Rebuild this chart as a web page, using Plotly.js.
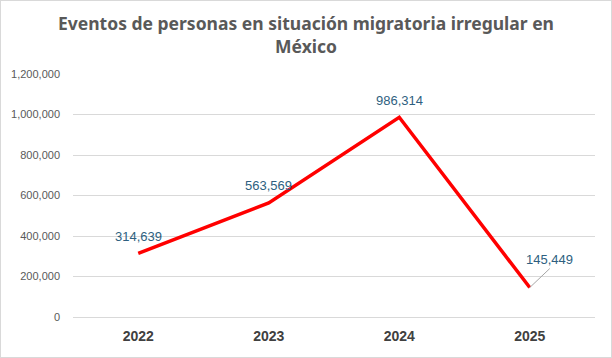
<!DOCTYPE html>
<html><head><meta charset="utf-8">
<script src="https://cdn.plot.ly/plotly-3.0.1.min.js"></script>
<style>
html,body{margin:0;padding:0;background:#fff;}
#c{width:610px;height:356px;border:1px solid #d9d9d9;}
</style></head>
<body><div id="c"></div>
<script>
const years = ['2022','2023','2024','2025'];
const values = [314639, 563569, 986314, 145449];
const labels = ['314,639','563,569','986,314','145,449'];

const annotations = years.map((y,i)=>{
  const last = i === years.length-1;
  return {
    x: i, y: values[i], xref:'x', yref:'y', text: labels[i],
    showarrow: true, arrowhead: 0, arrowwidth: 1,
    arrowcolor: last ? '#a6a6a6' : 'rgba(0,0,0,0)',
    ax: last ? 20 : 0, ay: last ? -19 : -17,
    xanchor: 'center', yanchor: last ? 'bottom' : 'middle',
    font: {family:'Liberation Sans, Arial, sans-serif', size:13, color:'#2e5f80'}
  };
});

const data = [{
  x: years, y: values, type:'scatter', mode:'lines',
  line:{color:'#ff0000', width:3.5}, hoverinfo:'skip'
}];

const layout = {
  width:610, height:356,
  margin:{l:72, r:16, t:73, b:40},
  paper_bgcolor:'#fff', plot_bgcolor:'#fff',
  showlegend:false,
  title:{text:'Eventos de personas en situación migratoria irregular en<br>México',
    font:{family:'Noto Sans, sans-serif', size:17.5, color:'#595959', weight:'bold'},
    x:0.5, xanchor:'center', yref:'container', y:0.918, yanchor:'middle'},
  xaxis:{type:'category', range:[-0.5,3.5], autorange:false, showgrid:false, zeroline:false, showline:false,
    ticks:'', ticklabelstandoff:9, tickfont:{family:'Liberation Sans, Arial, sans-serif', size:14, color:'#404040', weight:'bold'}},
  yaxis:{range:[0,1200000], autorange:false, dtick:200000, tickformat:',d', showgrid:true, gridcolor:'#d9d9d9', gridwidth:1,
    zeroline:true, zerolinecolor:'#d9d9d9', showline:false, ticks:'',
    tickfont:{family:'Liberation Sans, Arial, sans-serif', size:11, color:'#595959'}, ticklabelstandoff:12},
  annotations: annotations
};
Plotly.newPlot('c', data, layout, {displayModeBar:false, staticPlot:true});
</script></body></html>
